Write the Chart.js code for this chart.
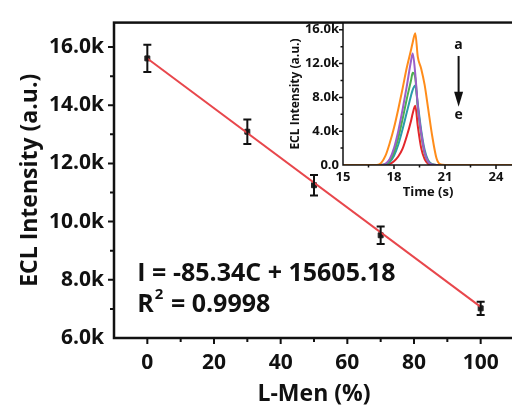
<!DOCTYPE html>
<html>
<head>
<meta charset="utf-8">
<script src="https://cdn.jsdelivr.net/npm/chart.js@4.4.0/dist/chart.umd.min.js"></script>
<style>
    html, body { margin: 0; padding: 0; background: #fff; overflow: hidden; }
    #wrap { position: relative; width: 512px; height: 412px; overflow: hidden; }
    #main { position: absolute; left: 0; top: 0; }
    #inset { position: absolute; left: 270px; top: 10px; }
</style>
</head>
<body>
<div id="wrap">
    <canvas id="main" width="520" height="412"></canvas>
    <canvas id="inset" width="250" height="200"></canvas>
</div>
<script>
// Main calibration data
const menPercent = [0, 30, 50, 70, 100]
const eclMean = [15610, 13090, 11250, 9530, 7020]
const eclError = [470, 420, 350, 300, 230]
const fitSlope = -85.34
const fitIntercept = 15605.18
const fitRange = [0, 100]
const rSquared = '0.9998'

// main axis ticks (labelled ones are the majors)
const mainXTicks = [0, 10, 20, 30, 40, 50, 60, 70, 80, 90, 100]
const mainXLabels = [0, 20, 40, 60, 80, 100]
const mainYTicks = [7000, 8000, 9000, 10000, 11000, 12000, 13000, 14000, 15000, 16000]
const mainYLabels = [6000, 8000, 10000, 12000, 14000, 16000]

// Inset ECL-time curves (a -> e)
const timeS = [15, 16, 17, 17.25, 17.5, 17.75, 18, 18.25, 18.5, 18.75, 19, 19.1, 19.25, 19.4, 19.6, 19.8, 20, 20.25, 20.5, 20.75, 21, 22, 23, 24, 25]
const curveA = [0, 0, 0, 250, 1100, 2600, 4400, 6600, 9000, 11500, 13600, 14500, 15600, 12800, 11400, 9500, 6800, 3400, 800, 50, 0, 0, 0, 0, 0]
const curveB = [0, 0, 0, 0, 150, 700, 2000, 4000, 6500, 9300, 12300, 13200, 10800, 7000, 3800, 1500, 400, 50, 0, 0, 0, 0, 0, 0, 0]
const curveC = [0, 0, 0, 0, 100, 500, 1500, 3200, 5400, 7800, 10000, 10900, 10300, 6800, 3600, 1400, 400, 50, 0, 0, 0, 0, 0, 0, 0]
const curveD = [0, 0, 0, 0, 50, 350, 1100, 2400, 4200, 6200, 8200, 8900, 9400, 7200, 4100, 1800, 600, 100, 0, 0, 0, 0, 0, 0, 0]
const curveE = [0, 0, 0, 0, 0, 150, 450, 1000, 1900, 3400, 5200, 6100, 7000, 4600, 2000, 700, 150, 0, 0, 0, 0, 0, 0, 0, 0]
const curveColors = ['#ff8c1a', '#9b5fc8', '#4caf50', '#2a9cab', '#e3262b']

// inset axis ticks
const insetXTicks = [16.5, 18, 19.5, 21, 22.5, 24]
const insetXLabels = [15, 18, 21, 24]
const insetYTicks = [2000, 4000, 6000, 8000, 10000, 12000, 14000, 16000]
const insetYLabels = [0, 4000, 8000, 12000, 16000]

// annotation anchors (data units)
const eqAnchor = { x: -3, y: 8200 }
const r2Anchor = { x: -3, y: 7150 }
const arrowX = 21.8
const arrowLabelA = 14200
const arrowLabelE = 5900
const arrowFrom = 12900
const arrowTo = 6900

const FONT = "'Open Sans', 'DejaVu Sans', sans-serif"
const INK = '#111'

function xy(xs, ys) {
    return xs.map(function (x, i) { return { x: x, y: ys[i] } })
}

function useTicks(values) {
    return function (scale) {
        scale.ticks = values.map(function (v) { return { value: v } })
    }
}

// frame box + outward tick marks
function frameTicks(opts) {
    return {
        id: 'frameTicks',
        afterDraw(chart) {
            const ctx = chart.ctx
            const a = chart.chartArea
            const x = chart.scales.x
            const y = chart.scales.y
            ctx.save()
            ctx.strokeStyle = INK
            ctx.lineWidth = opts.tickWidth
            ctx.beginPath()
            opts.xTicks.forEach(function (v) {
                const px = x.getPixelForValue(v)
                const len = opts.xMajor.indexOf(v) >= 0 ? opts.major : opts.minor
                ctx.moveTo(px, a.bottom)
                ctx.lineTo(px, a.bottom + len)
            })
            opts.yTicks.forEach(function (v) {
                const py = y.getPixelForValue(v)
                const len = opts.yMajor.indexOf(v) >= 0 ? opts.major : opts.minor
                ctx.moveTo(a.left, py)
                ctx.lineTo(a.left - len, py)
            })
            ctx.stroke()
            ctx.lineWidth = opts.frameWidth
            ctx.strokeRect(a.left, a.top, a.right - a.left, a.bottom - a.top)
            ctx.restore()
        }
    }
}

const mainExtras = {
    id: 'mainExtras',
    afterDatasetsDraw(chart) {
        const ctx = chart.ctx
        const x = chart.scales.x
        const y = chart.scales.y
        ctx.save()
        ctx.strokeStyle = INK
        ctx.lineWidth = 2
        menPercent.forEach(function (c, i) {
            const px = x.getPixelForValue(c)
            const top = y.getPixelForValue(eclMean[i] + eclError[i])
            const bot = y.getPixelForValue(eclMean[i] - eclError[i])
            ctx.beginPath()
            ctx.moveTo(px, top); ctx.lineTo(px, bot)
            ctx.moveTo(px - 4, top); ctx.lineTo(px + 4, top)
            ctx.moveTo(px - 4, bot); ctx.lineTo(px + 4, bot)
            ctx.stroke()
        })

        // equation text
        ctx.fillStyle = INK
        ctx.textBaseline = 'middle'
        ctx.textAlign = 'left'
        ctx.font = 'bold 25px ' + FONT
        ctx.fillText('I = ' + fitSlope + 'C + ' + fitIntercept, x.getPixelForValue(eqAnchor.x), y.getPixelForValue(eqAnchor.y))
        const rx = x.getPixelForValue(r2Anchor.x)
        const ry = y.getPixelForValue(r2Anchor.y)
        ctx.fillText('R', rx, ry)
        const rw = ctx.measureText('R').width
        ctx.font = 'bold 15px ' + FONT
        ctx.fillText('2', rx + rw + 1, ry - 10)
        const sw = ctx.measureText('2').width
        ctx.font = 'bold 25px ' + FONT
        ctx.fillText(' = ' + rSquared, rx + rw + sw + 2, ry)
        ctx.restore()
    }
}

const mainChart = new Chart(document.getElementById('main'), {
    type: 'scatter',
    data: {
        datasets: [
            {
                type: 'line',
                data: fitRange.map(function (c) { return { x: c, y: fitSlope * c + fitIntercept } }),
                borderColor: '#e8474c',
                borderWidth: 2,
                pointRadius: 0,
                fill: false
            },
            {
                data: xy(menPercent, eclMean),
                pointStyle: 'rect',
                pointRadius: 3.5,
                backgroundColor: '#222',
                borderColor: '#222',
                borderWidth: 1
            }
        ]
    },
    options: {
        responsive: false,
        animation: false,
        devicePixelRatio: 1,
        layout: { padding: { left: 0, top: 15, right: 6, bottom: 0 } },
        plugins: { legend: { display: false }, tooltip: { enabled: false } },
        scales: {
            x: {
                type: 'linear', min: -10, max: 110,
                afterBuildTicks: useTicks(mainXLabels),
                afterFit(s) { s.height = 74 },
                grid: { display: false, drawTicks: false },
                border: { display: false },
                ticks: {
                    autoSkip: false, maxRotation: 0, padding: 12, color: INK,
                    font: { family: FONT, size: 21, weight: 'bold' }
                },
                title: {
                    display: true, text: 'L-Men (%)', color: INK,
                    font: { family: FONT, size: 23, weight: 'bold' },
                    padding: { top: 0, bottom: 4 }
                }
            },
            y: {
                min: 6000, max: 16840,
                afterBuildTicks: useTicks(mainYLabels),
                afterFit(s) { s.width = 114 },
                grid: { display: false, drawTicks: false },
                border: { display: false },
                ticks: {
                    autoSkip: false, padding: 10, color: INK,
                    font: { family: FONT, size: 21, weight: 'bold' },
                    callback: function (v) { return (v / 1000).toFixed(1) + 'k' }
                },
                title: {
                    display: true, text: 'ECL Intensity (a.u.)', color: INK,
                    font: { family: FONT, size: 23, weight: 'bold' },
                    padding: { top: 17, bottom: 0 }
                }
            }
        }
    },
    plugins: [mainExtras, frameTicks({
        tickWidth: 2, frameWidth: 2.5, major: 6, minor: 4,
        xTicks: mainXTicks, xMajor: mainXLabels,
        yTicks: mainYTicks, yMajor: mainYLabels
    })]
})

const insetExtras = {
    id: 'insetExtras',
    beforeDatasetsDraw(chart) {
        const a = chart.chartArea
        chart.ctx.save()
        chart.ctx.fillStyle = '#fff'
        chart.ctx.fillRect(a.left, a.top, a.right - a.left, a.bottom - a.top)
        chart.ctx.restore()
    },
    afterDraw(chart) {
        const ctx = chart.ctx
        const x = chart.scales.x
        const y = chart.scales.y
        const px = x.getPixelForValue(arrowX)
        ctx.save()
        ctx.fillStyle = INK
        ctx.strokeStyle = INK
        ctx.font = 'bold 14px ' + FONT
        ctx.textAlign = 'center'
        ctx.textBaseline = 'middle'
        ctx.fillText('a', px, y.getPixelForValue(arrowLabelA))
        ctx.fillText('e', px, y.getPixelForValue(arrowLabelE))
        const y1 = y.getPixelForValue(arrowFrom)
        const y2 = y.getPixelForValue(arrowTo)
        ctx.lineWidth = 2
        ctx.beginPath()
        ctx.moveTo(px, y1); ctx.lineTo(px, y2 - 12)
        ctx.stroke()
        ctx.beginPath()
        ctx.moveTo(px - 4.5, y2 - 15); ctx.lineTo(px + 4.5, y2 - 15); ctx.lineTo(px, y2)
        ctx.closePath()
        ctx.fill()
        ctx.restore()
    }
}

const insetCurves = [curveA, curveB, curveC, curveD, curveE]

const insetChart = new Chart(document.getElementById('inset'), {
    type: 'line',
    data: {
        datasets: insetCurves.map(function (c, i) {
            return {
                data: xy(timeS, c),
                borderColor: curveColors[i],
                borderWidth: 2,
                pointRadius: 0,
                cubicInterpolationMode: 'monotone',
                fill: false,
                order: i === 0 ? -1 : i
            }
        })
    },
    options: {
        responsive: false,
        animation: false,
        devicePixelRatio: 1,
        layout: { padding: { left: 0, top: 13, right: 7, bottom: 0 } },
        plugins: { legend: { display: false }, tooltip: { enabled: false } },
        scales: {
            x: {
                type: 'linear', min: 15, max: 25,
                afterBuildTicks: useTicks(insetXLabels),
                afterFit(s) { s.height = 45 },
                grid: { display: false, drawTicks: false },
                border: { display: false },
                ticks: {
                    autoSkip: false, maxRotation: 0, padding: 4, color: INK,
                    font: { family: FONT, size: 13, weight: 'bold' }
                },
                title: {
                    display: true, text: 'Time (s)', color: INK,
                    font: { family: FONT, size: 13, weight: 'bold' },
                    padding: { top: 0, bottom: 10 }
                }
            },
            y: {
                min: 0, max: 16800,
                afterBuildTicks: useTicks(insetYLabels),
                afterFit(s) { s.width = 73 },
                grid: { display: false, drawTicks: false },
                border: { display: false },
                ticks: {
                    autoSkip: false, padding: 4, color: INK,
                    font: { family: FONT, size: 13, weight: 'bold' },
                    callback: function (v) { return v === 0 ? '0.0' : (v / 1000).toFixed(1) + 'k' }
                },
                title: {
                    display: true, text: 'ECL Intensity (a.u.)', color: INK,
                    font: { family: FONT, size: 12, weight: 'bold' },
                    padding: { top: 18, bottom: 0 }
                }
            }
        }
    },
    plugins: [insetExtras, frameTicks({
        tickWidth: 1.5, frameWidth: 1.5, major: 4, minor: 2.5,
        xTicks: insetXTicks, xMajor: insetXLabels,
        yTicks: insetYTicks, yMajor: insetYLabels
    })]
})
</script>
</body>
</html>
